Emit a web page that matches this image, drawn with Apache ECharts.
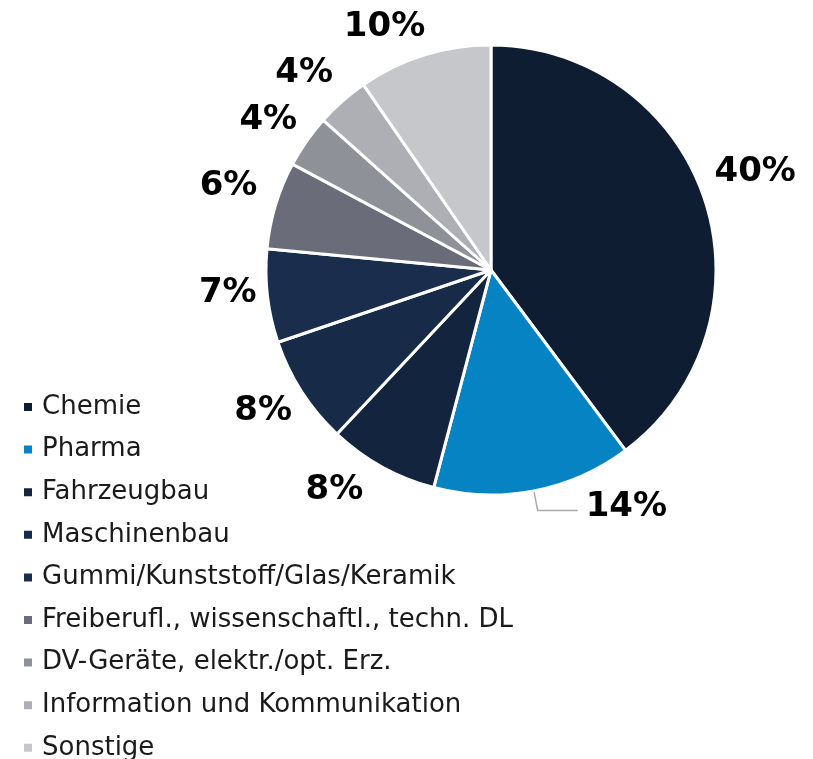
<!DOCTYPE html>
<html>
<head>
<meta charset="utf-8">
<script src="https://cdn.jsdelivr.net/npm/echarts@6/dist/echarts.min.js"></script>
<style>
  html, body { margin: 0; padding: 0; background: #fff; }
  #chart { width: 813px; height: 759px; }
</style>
</head>
<body>
<div id="chart"></div>
<script>
// Branchen-Anteile (in %)
const categories = [
  'Chemie',
  'Pharma',
  'Fahrzeugbau',
  'Maschinenbau',
  'Gummi/Kunststoff/Glas/Keramik',
  'Freiberufl., wissenschaftl., techn. DL',
  'DV-Geräte, elektr./opt. Erz.',
  'Information und Kommunikation',
  'Sonstige'
]
const shares = [39.8, 14.3, 7.9, 7.8, 6.7, 6.3, 3.8, 3.8, 9.6]
const colors = ['#0f1d32', '#0683c3', '#13243e', '#172a47', '#1a2d4d', '#6a6d79', '#8e9198', '#aeafb4', '#c6c7cb']

// Feinjustierung der Beschriftungen [dx, dy]
const labelShift = [
  [-14, -21], [3, -3], [-4, 6], [12, 9], [14, -5], [6, -13], [12, -10], [9, -13], [12, -9]
]

const chart = echarts.init(document.getElementById('chart'))
chart.setOption({
  animation: false,
  color: colors,
  legend: {
    orient: 'vertical',
    left: 22,
    top: 394,
    height: 370,
    padding: 0,
    icon: 'rect',
    itemWidth: 10,
    itemHeight: 10,
    itemGap: 16.6,
    selectedMode: false,
    textStyle: {
      fontFamily: 'DejaVu Sans',
      fontSize: 26,
      lineHeight: 26,
      color: '#1a1a1a',
      padding: [0, 0, 0, 4]
    },
    data: categories
  },
  series: [{
    type: 'pie',
    center: [491, 270],
    radius: 225,
    startAngle: 90,
    clockwise: true,
    avoidLabelOverlap: false,
    itemStyle: {
      borderColor: '#fff',
      borderWidth: 3
    },
    label: {
      position: 'outside',
      fontFamily: 'DejaVu Sans',
      fontWeight: 'bold',
      fontSize: 34,
      color: '#000',
      formatter: (p) => Math.round(p.value) + '%'
    },
    labelLine: {
      show: false,
      length: 20,
      length2: 0
    },
    labelLayout: (params) => {
      const s = labelShift[params.dataIndex]
      return { dx: s[0], dy: s[1] }
    },
    emphasis: { disabled: true },
    data: categories.map((name, i) => {
      const item = { name: name, value: shares[i] }
      if (i === 1) {
        item.labelLine = {
          show: true,
          length: 20,
          length2: 40,
          lineStyle: { color: '#aaaaaa', width: 1.5 }
        }
      }
      return item
    })
  }]
})
</script>
</body>
</html>
